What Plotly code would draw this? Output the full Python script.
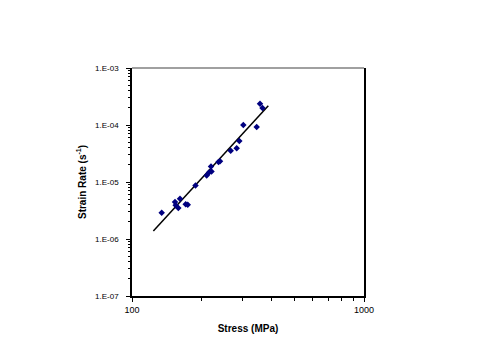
import plotly.graph_objects as go

# Measured data (stress in MPa, strain rate in 1/s)
stress = [134.3, 153.2, 154.3, 158.4, 161.0, 170.4, 173.9, 187.8, 209.9, 214.7,
          220.1, 219.0, 236.0, 239.5, 266.3, 282.7, 290.1, 301.8, 344.7, 356.2, 365.2]
strain_rate = [2.90e-6, 4.44e-6, 3.89e-6, 3.49e-6, 5.09e-6, 4.09e-6, 4.00e-6, 8.69e-6,
               1.30e-5, 1.47e-5, 1.53e-5, 1.87e-5, 2.24e-5, 2.31e-5, 3.55e-5, 3.89e-5,
               5.25e-5, 9.98e-5, 9.21e-5, 2.35e-4, 1.98e-4]

# Power-law trend line end points
fit_stress = [123.6, 386.8]
fit_rate = [1.38e-6, 2.17e-4]

x_ticks = [100, 1000]
x_tick_text = ["100", "1000"]
x_minor = [200, 300, 400, 500, 600, 700, 800, 900]
y_ticks = [1e-7, 1e-6, 1e-5, 1e-4, 1e-3]
y_tick_text = ["1.E-07", "1.E-06", "1.E-05", "1.E-04", "1.E-03"]
y_minor = [m * 10.0 ** e for e in range(-7, -3) for m in range(2, 10)]

font = "Liberation Sans, Arial, sans-serif"

fig = go.Figure()
fig.add_trace(go.Scatter(x=fit_stress, y=fit_rate, mode="lines",
                         line=dict(color="black", width=1.5), showlegend=False))
fig.add_trace(go.Scatter(x=stress, y=strain_rate, mode="markers",
                         marker=dict(symbol="diamond", size=5, color="#000080"),
                         showlegend=False))

fig.update_layout(
    width=480, height=360,
    margin=dict(l=124, r=124, t=60, b=72),
    paper_bgcolor="white", plot_bgcolor="white",
    font=dict(family=font, color="black", size=8),
    xaxis=dict(type="log", range=[2, 3], tickmode="array", tickvals=x_ticks,
               ticktext=x_tick_text, ticks="outside", ticklen=4, tickwidth=1,
               tickcolor="black", showline=True, linecolor="black", linewidth=1.5,
               showgrid=False, zeroline=False, tickfont=dict(size=9, family=font),
               minor=dict(tickmode="array", tickvals=x_minor, ticks="outside",
                          ticklen=3, tickcolor="black", showgrid=False),
               title=dict(text="<b>Stress (MPa)</b>", font=dict(size=10, family=font),
                          standoff=11)),
    yaxis=dict(type="log", range=[-7, -3], tickmode="array", tickvals=y_ticks,
               ticktext=y_tick_text, ticks="outside", ticklen=4, tickwidth=1,
               tickcolor="black", showline=True, linecolor="black", linewidth=1.5,
               mirror=True, showgrid=False, zeroline=False,
               tickfont=dict(size=8, family=font), ticklabelstandoff=6,
               minor=dict(tickmode="array", tickvals=y_minor, ticks="outside",
                          ticklen=2, tickcolor="black", showgrid=False),
               title=dict(text="<b>Strain Rate (s<sup>-1</sup>)</b>",
                          font=dict(size=10, family=font), standoff=7)),
    shapes=[dict(type="line", xref="paper", yref="paper", x0=0, x1=1, y0=1, y1=1,
                 line=dict(color="#808080", width=1.5))],
)

fig.write_html("out.html")
